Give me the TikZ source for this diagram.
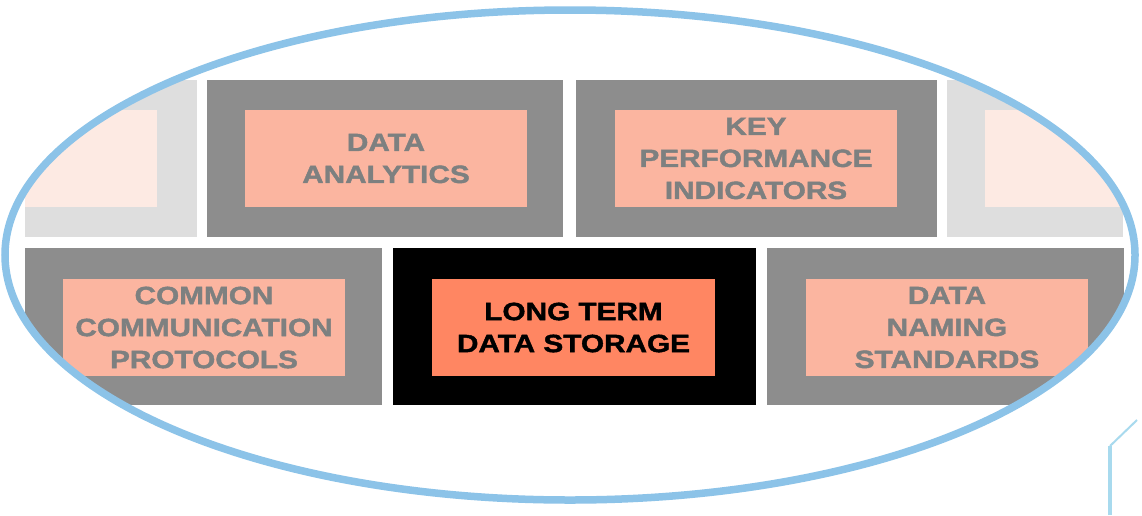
\documentclass[tikz,border=0pt]{standalone}
\usepackage{fontspec}
\newfontfamily\boxfont{Liberation Sans}[FakeStretch=1.19, BoldFeatures={FakeBold=1.6}]
\definecolor{framegray}{RGB}{141,141,141}
\definecolor{pale}{RGB}{251,181,160}
\definecolor{labelgray}{RGB}{125,128,128}
\definecolor{hot}{RGB}{255,134,98}
\definecolor{ghostframe}{RGB}{222,222,222}
\definecolor{ghostfill}{RGB}{253,234,227}
\definecolor{ring}{RGB}{140,195,232}
\definecolor{tick}{RGB}{168,218,238}
\tikzset{
  frame/.style={fill=framegray, draw=none, inner sep=0pt, minimum width=357pt, minimum height=157pt},
  panel/.style={fill=pale, draw=none, inner sep=0pt, minimum width=282pt, minimum height=97pt,
    text=labelgray, align=center, font=\boxfont\bfseries\fontsize{25}{32}\selectfont},
  hotframe/.style={frame, fill=black},
  hotpanel/.style={panel, fill=hot, text=black},
  ghostframe/.style={fill=ghostframe, draw=none},
  ghostpanel/.style={fill=ghostfill, draw=none},
  ringline/.style={draw=ring, line width=7.5pt},
  tickline/.style={draw=tick, line width=4pt}
}
\begin{document}
\begin{tikzpicture}[x=1pt, y=-1pt]
\useasboundingbox (0,0) rectangle (1142,515);
\fill[white] (0,0) rectangle (1142,515);
\begin{scope}
  \clip (570,255) ellipse [x radius=565pt, y radius=245pt];
  % partly hidden tiles at both ends of the top row
  \fill[ghostframe] (25,80) rectangle (197,237);
  \fill[ghostpanel] (25,110) rectangle (157,207);
  \fill[ghostframe] (947,80) rectangle (1123,237);
  \fill[ghostpanel] (985,110) rectangle (1123,207);
  % top row
  \node[frame, minimum width=356pt] (fa) at (385,158.5) {};
  \node[panel] (analytics) at (386,158.5) {DATA\\ANALYTICS};
  \node[frame, minimum width=361pt] (fk) at (756.5,158.5) {};
  \node[panel] (kpi) at (756,158.5) {KEY\\PERFORMANCE\\INDICATORS};
  % bottom row
  \node[frame] (fc) at (203.5,326.5) {};
  \node[panel] (protocols) at (204,327.5) {COMMON\\COMMUNICATION\\PROTOCOLS};
  \node[hotframe, minimum width=363pt] (fs) at (574.5,326.5) {};
  \node[hotpanel, minimum width=283pt] (storage) at (573.5,327.5) {LONG TERM\\DATA STORAGE};
  \node[frame] (fn) at (945.5,326.5) {};
  \node[panel] (naming) at (947,327.5) {DATA\\NAMING\\STANDARDS};
\end{scope}
% enclosing ring
\draw[ringline] (570,255) ellipse [x radius=565pt, y radius=245pt];
% short stroke at the lower right
\coordinate (t0) at (1110,515);
\coordinate (t1) at (1110,446);
\coordinate (t2) at (1137,420);
\draw[tickline] (t0) -- (t1);
\draw[draw=tick, line width=2pt] (t1) -- (t2);
\end{tikzpicture}
\end{document}
